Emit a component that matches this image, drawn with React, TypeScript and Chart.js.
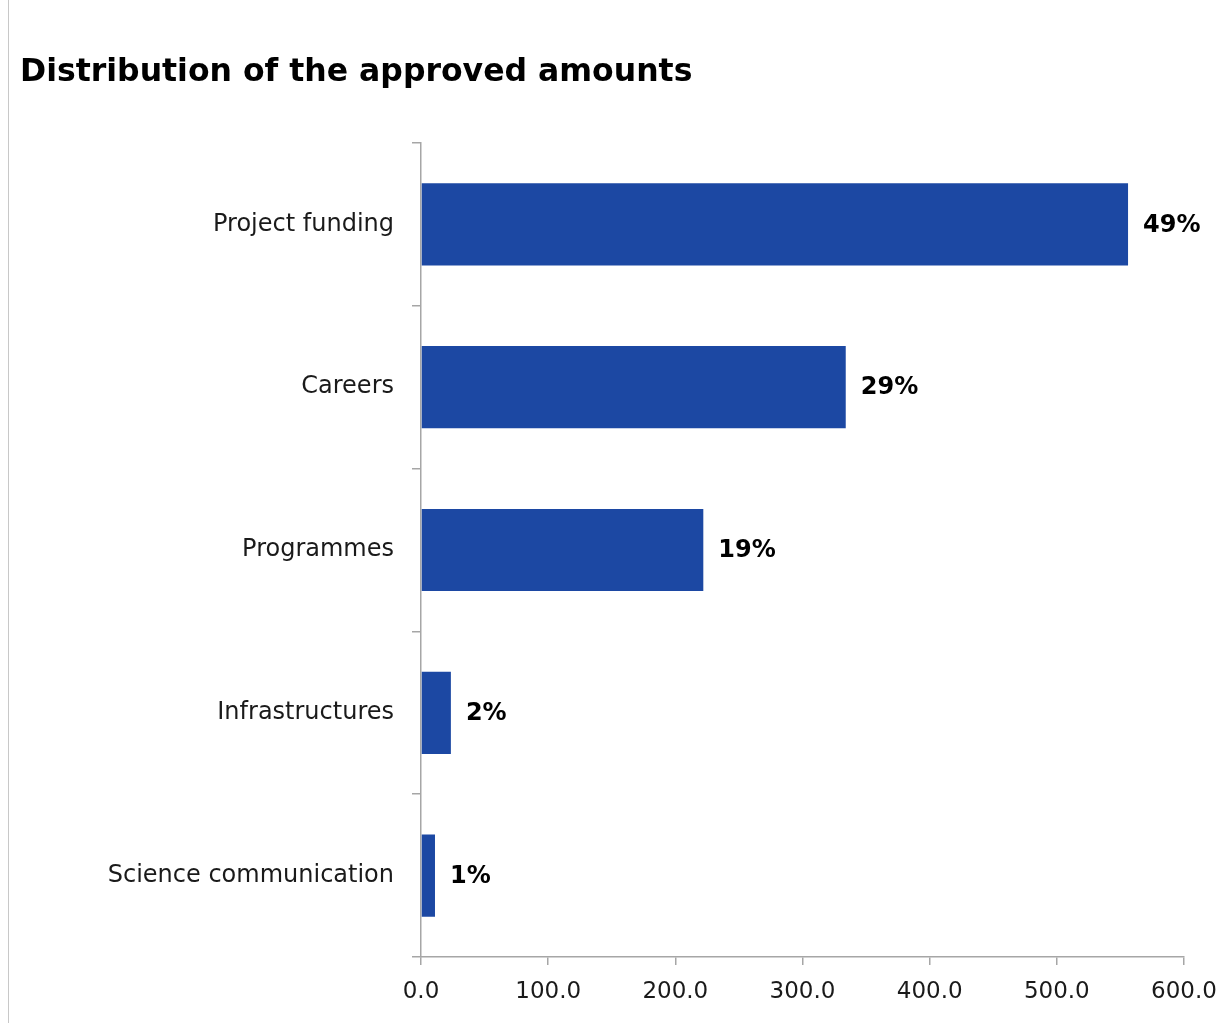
import React, { useEffect, useRef } from "react";
import { Chart, registerables } from "chart.js";

Chart.register(...registerables);

const categories = [
  "Project funding",
  "Careers",
  "Programmes",
  "Infrastructures",
  "Science communication",
];
const amounts = [556, 334, 222, 23.5, 11];
const shareLabels = ["49%", "29%", "19%", "2%", "1%"];
const xTicks = [0, 100, 200, 300, 400, 500, 600];

const FONT = "'DejaVu Sans', Verdana, sans-serif";
const BAR_COLOR = "#1c48a3";
const AXIS_COLOR = "#a6a6a6";

const valueLabels = {
  id: "valueLabels",
  afterDatasetsDraw(chart: any) {
    const ctx = chart.ctx;
    const meta = chart.getDatasetMeta(0);
    ctx.save();
    ctx.font = `bold 24px ${FONT}`;
    ctx.fillStyle = "#000000";
    ctx.textAlign = "left";
    ctx.textBaseline = "middle";
    meta.data.forEach((bar: any, i: number) => {
      ctx.fillText(shareLabels[i], bar.x + 15, bar.y + 1);
    });
    ctx.restore();
  },
};

export default function App() {
  const ref = useRef<HTMLCanvasElement | null>(null);

  useEffect(() => {
    if (!ref.current) return;
    const chart = new Chart(ref.current, {
      type: "bar",
      data: {
        labels: categories,
        datasets: [
          {
            data: amounts,
            backgroundColor: BAR_COLOR,
            borderWidth: 0,
            categoryPercentage: 0.505,
            barPercentage: 1,
          },
        ],
      },
      options: {
        indexAxis: "y",
        animation: false,
        responsive: false,
        maintainAspectRatio: false,
        layout: { padding: { top: 143, right: 44, bottom: 0, left: 0 } },
        plugins: {
          legend: { display: false },
          tooltip: { enabled: false },
          title: { display: false },
        },
        scales: {
          x: {
            min: 0,
            max: 600,
            afterBuildTicks: (scale: any) => {
              scale.ticks = xTicks.map((v) => ({ value: v }));
            },
            afterFit: (scale: any) => {
              scale.height = 66;
              scale.paddingLeft = 0;
              scale.paddingRight = 0;
            },
            border: { display: true, color: AXIS_COLOR, width: 1.5 },
            grid: {
              drawOnChartArea: false,
              drawTicks: true,
              tickLength: 8,
              color: AXIS_COLOR,
              lineWidth: 1.5,
            },
            ticks: {
              padding: 13,
              color: "#1a1a1a",
              font: { family: FONT, size: 23 },
              callback: (v: any) => Number(v).toFixed(1),
              maxRotation: 0,
            },
          },
          y: {
            afterFit: (scale: any) => {
              scale.width = 421;
              scale.paddingTop = 0;
              scale.paddingBottom = 0;
            },
            border: { display: true, color: AXIS_COLOR, width: 1.5 },
            grid: {
              offset: true,
              drawOnChartArea: false,
              drawTicks: true,
              tickLength: 9,
              color: AXIS_COLOR,
              lineWidth: 1.5,
            },
            ticks: {
              padding: 18,
              color: "#1a1a1a",
              font: { family: FONT, size: 24 },
            },
          },
        },
      },
      plugins: [valueLabels],
    });
    return () => chart.destroy();
  }, []);

  return (
    <div
      style={{
        position: "absolute",
        left: 0,
        top: 0,
        width: 1228,
        height: 1023,
        background: "#ffffff",
        overflow: "hidden",
      }}
    >
      <div
        style={{
          position: "absolute",
          left: 8,
          top: 0,
          width: 0,
          height: 1023,
          borderLeft: "1px solid #c8c8c8",
        }}
      />
      <canvas
        ref={ref}
        width={1228}
        height={1023}
        style={{ position: "absolute", left: 0, top: 0 }}
      />
      <div
        style={{
          position: "absolute",
          left: 20,
          top: 50,
          fontFamily: FONT,
          fontWeight: "bold",
          fontSize: 31.5,
          lineHeight: "40px",
          color: "#000000",
          whiteSpace: "nowrap",
        }}
      >
        Distribution of the approved amounts
      </div>
    </div>
  );
}
